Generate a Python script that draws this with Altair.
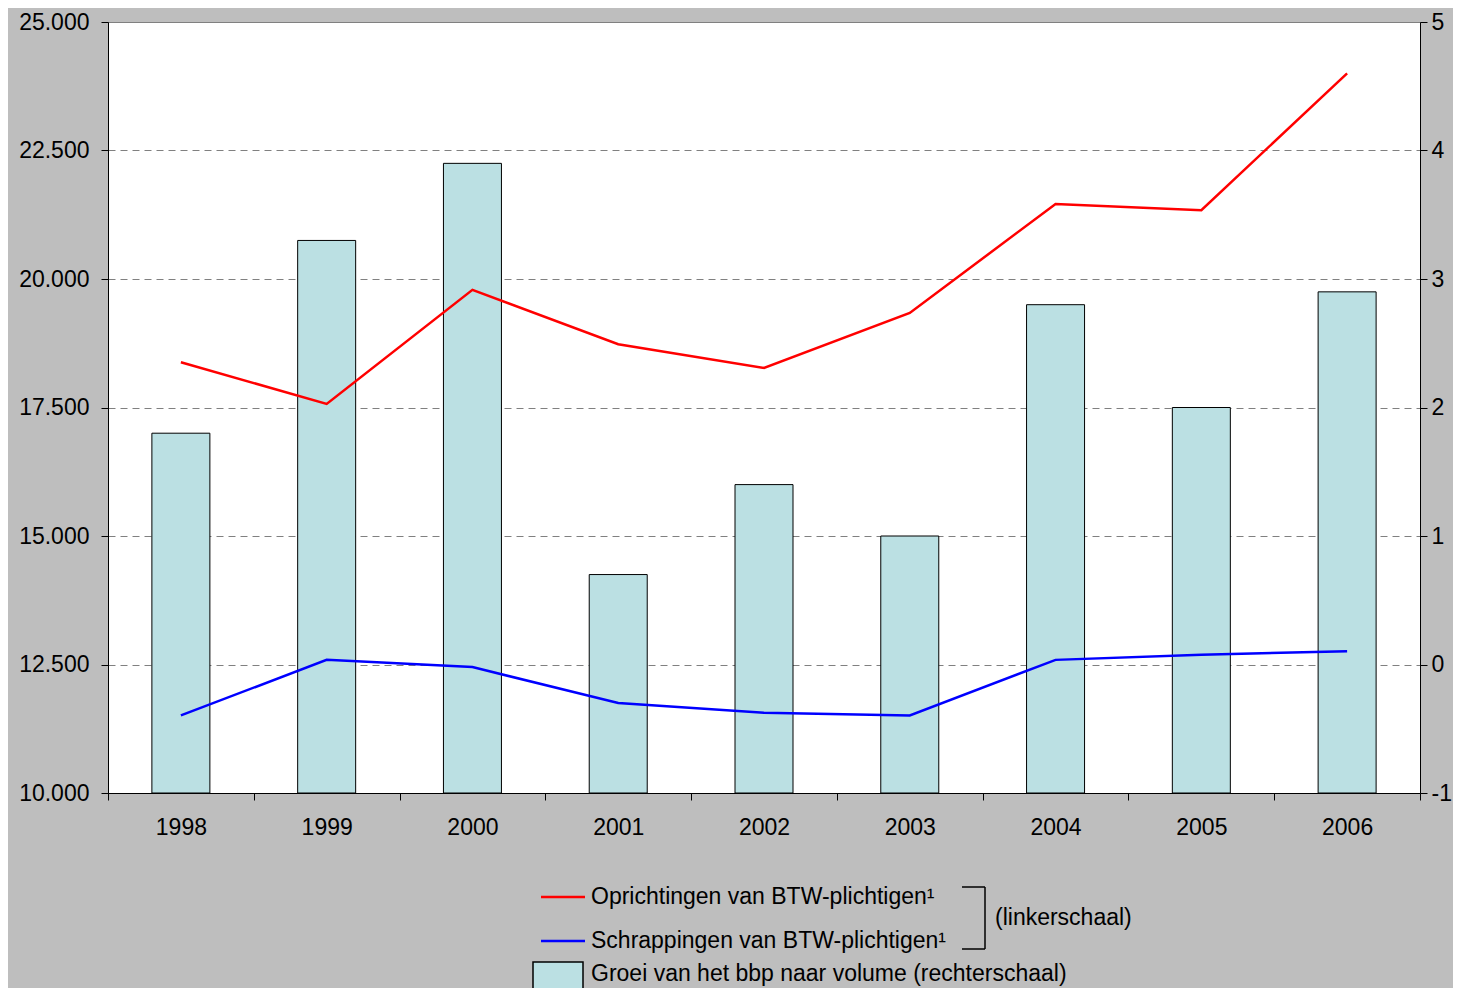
import altair as alt
import pandas as pd

years = ["1998", "1999", "2000", "2001", "2002", "2003", "2004", "2005", "2006"]
oprichtingen = [18380, 17570, 19790, 18730, 18270, 19340, 21460, 21340, 24000]
schrappingen = [11510, 12590, 12450, 11750, 11560, 11510, 12590, 12690, 12760]
bbp_groei = [1.8, 3.3, 3.9, 0.7, 1.4, 1.0, 2.8, 2.0, 2.9]
left_ticks = [10000, 12500, 15000, 17500, 20000, 22500, 25000]
right_ticks = [-1, 0, 1, 2, 3, 4, 5]
series_names = ["Oprichtingen van BTW-plichtigen¹", "Schrappingen van BTW-plichtigen¹"]
bar_label = "Groei van het bbp naar volume (rechterschaal)"
bracket_label = "(linkerschaal)"

FONT = "Liberation Sans"
FS = 23
RED = "#FF0000"
BLUE = "#0000FF"
BAR = "#BBE0E3"

df_bar = pd.DataFrame({"jaar": years, "groei": bbp_groei})
df_lines = pd.DataFrame({
    "jaar": years + years,
    "reeks": [series_names[0]] * len(years) + [series_names[1]] * len(years),
    "aantal": oprichtingen + schrappingen,
})
dummy = pd.DataFrame({"d": [0]})

x_enc = alt.X(
    "jaar:N",
    sort=years,
    scale=alt.Scale(paddingInner=0, paddingOuter=0),
    axis=alt.Axis(
        title=None, labelAngle=0, tickBand="extent", tickSize=7,
        labelPadding=16, labelFontSize=FS, labelFont=FONT, labelColor="black",
        domainColor="black", tickColor="black", grid=False,
    ),
)

bars = alt.Chart(df_bar).mark_bar(
    size=58, color=BAR, stroke="black", strokeWidth=1
).encode(
    x=x_enc,
    y=alt.Y(
        "groei:Q",
        scale=alt.Scale(domain=[-1, 5], nice=False, zero=False),
        axis=alt.Axis(
            orient="right", values=right_ticks, title=None, grid=False,
            labelExpr="replace(datum.label, '\u2212', '-')",
            tickSize=7, labelPadding=4, labelFontSize=FS, labelFont=FONT,
            labelColor="black", domainColor="black", tickColor="black",
        ),
    ),
    y2=alt.datum(-1),
)

lines = alt.Chart(df_lines).mark_line(strokeWidth=2.5).encode(
    x=x_enc,
    y=alt.Y(
        "aantal:Q",
        scale=alt.Scale(domain=[10000, 25000], nice=False, zero=False),
        axis=alt.Axis(
            orient="left", values=left_ticks, title=None,
            labelExpr="replace(format(datum.value, ','), ',', '.')",
            grid=True, gridDash=[7, 5], gridColor="#808080", gridWidth=1,
            tickSize=7, labelPadding=12, labelFontSize=FS, labelFont=FONT,
            labelColor="black", domainColor="black", tickColor="black",
        ),
    ),
    color=alt.Color(
        "reeks:N",
        scale=alt.Scale(domain=series_names, range=[RED, BLUE]),
        legend=None,
    ),
)


def hrule(x1, x2, y, color, w):
    return alt.Chart(dummy).mark_rule(color=color, strokeWidth=w).encode(
        x=alt.value(x1), x2=alt.value(x2), y=alt.value(y)
    )


def vrule(x, y1, y2, color, w):
    return alt.Chart(dummy).mark_rule(color=color, strokeWidth=w).encode(
        x=alt.value(x), y=alt.value(y1), y2=alt.value(y2)
    )


def label(txt, x, y):
    return alt.Chart(dummy).mark_text(
        text=txt, align="left", baseline="middle", fontSize=FS, font=FONT, color="black"
    ).encode(x=alt.value(x), y=alt.value(y))


legend_layers = [
    hrule(433, 477, 875, RED, 2.5),
    label(series_names[0], 483, 875),
    hrule(433, 477, 919, BLUE, 2.5),
    label(series_names[1], 483, 919),
    hrule(854, 877, 865, "black", 1.5),
    hrule(854, 877, 927, "black", 1.5),
    vrule(877, 865, 927, "black", 1.5),
    label(bracket_label, 887, 896),
    alt.Chart(dummy).mark_rect(fill=BAR, stroke="black", strokeWidth=1.5).encode(
        x=alt.value(425), x2=alt.value(475), y=alt.value(940), y2=alt.value(968)
    ),
    label(bar_label, 483, 952),
]

chart = alt.layer(bars, lines, *legend_layers).resolve_scale(
    y="independent"
).properties(
    width=1312,
    height=771,
    padding={"left": 100, "top": 14, "right": 33, "bottom": 195},
    autosize=alt.AutoSizeParams(type="none"),
    background="#BEBEBE",
).configure_view(
    fill="white", stroke="#808080", strokeWidth=1
)

chart.save("out.html", embed_options={"renderer": "svg", "actions": False})
